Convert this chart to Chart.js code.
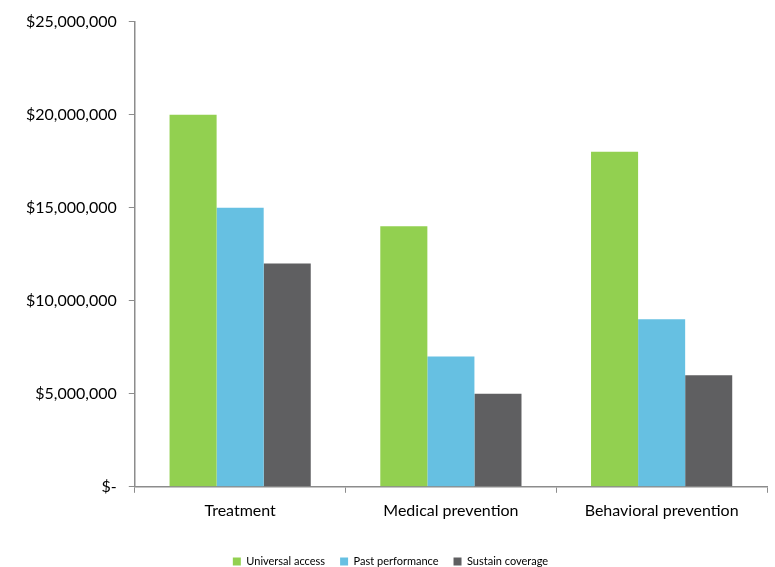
<!DOCTYPE html>
<html>
<head>
<meta charset="utf-8">
<script src="https://cdn.jsdelivr.net/npm/chart.js@4"></script>
<style>
  html, body { margin: 0; padding: 0; background: #fff; }
  #wrap { width: 775px; height: 567px; position: relative; }
</style>
</head>
<body>
<div id="wrap"><canvas id="chart"></canvas></div>
<script>
// Categories and series
const categories = ['Treatment', 'Medical prevention', 'Behavioral prevention'];
const universalAccess = [20000000, 14000000, 18000000];
const pastPerformance = [15000000, 7000000, 9000000];
const sustainCoverage = [12000000, 5000000, 6000000];
const yTicks = [0, 5000000, 10000000, 15000000, 20000000, 25000000];

const axisColor = '#8c8c8c';
const fontFamily = 'Lato, "Open Sans", sans-serif';
const legendShift = 13;

function formatMoney(v) {
  if (v === 0) return '$-';
  return '$' + v.toLocaleString('en-US');
}

// Move the legend down a bit without changing the plot area
const legendOffset = {
  id: 'legendOffset',
  afterLayout(chart) {
    const legend = chart.legend;
    if (!legend) return;
    legend.top += legendShift;
    legend.bottom += legendShift;
  }
};

const ctx = document.getElementById('chart').getContext('2d');

new Chart(ctx, {
  type: 'bar',
  data: {
    labels: categories,
    datasets: [
      { label: 'Universal access', data: universalAccess, backgroundColor: '#92d050' },
      { label: 'Past performance', data: pastPerformance, backgroundColor: '#66c0e2' },
      { label: 'Sustain coverage', data: sustainCoverage, backgroundColor: '#5f5f61' }
    ]
  },
  options: {
    responsive: true,
    maintainAspectRatio: false,
    animation: false,
    layout: { padding: { top: 6, right: 8, left: 14, bottom: 3 } },
    datasets: {
      bar: { categoryPercentage: 0.67, barPercentage: 1.0 }
    },
    scales: {
      x: {
        grid: {
          display: true,
          drawOnChartArea: false,
          drawTicks: true,
          tickLength: 6,
          color: axisColor
        },
        border: { display: true, color: axisColor, width: 1.5 },
        ticks: { color: '#000', font: { family: fontFamily, size: 16 }, padding: 8 }
      },
      y: {
        min: 0,
        max: 25000000,
        afterBuildTicks(axis) {
          axis.ticks = yTicks.map(v => ({ value: v }));
        },
        grid: {
          display: true,
          drawOnChartArea: false,
          drawTicks: true,
          tickLength: 6,
          color: axisColor
        },
        border: { display: true, color: axisColor, width: 1.5 },
        ticks: {
          color: '#000',
          font: { family: fontFamily, size: 16 },
          padding: 12,
          callback: v => formatMoney(v)
        }
      }
    },
    plugins: {
      legend: {
        position: 'bottom',
        labels: {
          boxWidth: 8,
          boxHeight: 8,
          padding: 15,
          color: '#000',
          font: { family: fontFamily, size: 11 }
        }
      },
      tooltip: { enabled: false }
    }
  },
  plugins: [legendOffset]
});
</script>
</body>
</html>
